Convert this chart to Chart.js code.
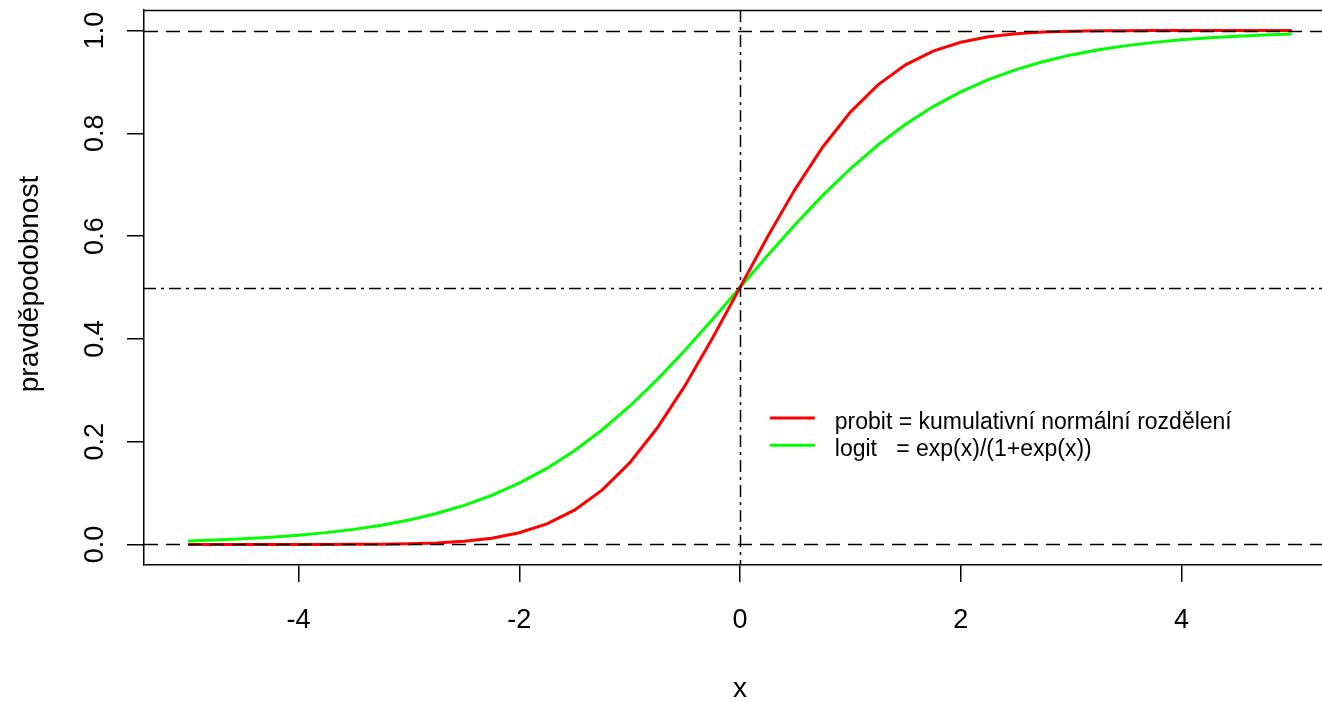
<!DOCTYPE html>
<html>
<head>
<meta charset="utf-8">
<script src="https://cdn.jsdelivr.net/npm/chart.js@4.4.0/dist/chart.umd.min.js"></script>
<style>
html,body{margin:0;padding:0;background:#fff;overflow:hidden;}
canvas{display:block;}
</style>
</head>
<body>
<canvas id="c" width="1322" height="701"></canvas>
<script>
// ---- data ----
const xValues = [-5, -4.75, -4.5, -4.25, -4, -3.75, -3.5, -3.25, -3, -2.75, -2.5, -2.25, -2, -1.75, -1.5, -1.25, -1, -0.75, -0.5, -0.25, 0,
  0.25, 0.5, 0.75, 1, 1.25, 1.5, 1.75, 2, 2.25, 2.5, 2.75, 3, 3.25, 3.5, 3.75, 4, 4.25, 4.5, 4.75, 5];
const probitValues = [0.000, 0.000, 0.000, 0.000, 0.000, 0.0001, 0.0002, 0.0006, 0.0013, 0.003, 0.0062, 0.0122, 0.0228, 0.0401, 0.0668, 0.1056, 0.1587, 0.2266, 0.3085, 0.4013, 0.5,
  0.5987, 0.6915, 0.7734, 0.8413, 0.8944, 0.9332, 0.9599, 0.9772, 0.9878, 0.9938, 0.997, 0.9987, 0.9994, 0.9998, 0.9999, 1.0, 1.0, 1.0, 1.0, 1.0];
const logitValues = [0.0067, 0.0086, 0.011, 0.0141, 0.018, 0.023, 0.0293, 0.0373, 0.0474, 0.0601, 0.0759, 0.0953, 0.1192, 0.148, 0.1824, 0.2227, 0.2689, 0.3208, 0.3775, 0.4378, 0.5,
  0.5622, 0.6225, 0.6792, 0.7311, 0.7773, 0.8176, 0.852, 0.8808, 0.9047, 0.9241, 0.9399, 0.9526, 0.9627, 0.9707, 0.977, 0.982, 0.9859, 0.989, 0.9914, 0.9933];
const xTicks = [-4, -2, 0, 2, 4];
const xTickLabels = ['-4', '-2', '0', '2', '4'];
const yTicks = [0, 0.2, 0.4, 0.6, 0.8, 1.0];
const yTickLabels = ['0.0', '0.2', '0.4', '0.6', '0.8', '1.0'];
const dashedRefY = [0, 1];
const dotdashRefY = [0.5];
const dotdashRefX = [0];
const seriesLabels = ['probit = kumulativní normální rozdělení', 'logit   = exp(x)/(1+exp(x))'];
const xTitle = 'x';
const yTitle = 'pravděpodobnost';

const FONT = '"Liberation Sans", Arial, sans-serif';

const probitData = xValues.map((x, i) => ({x: x, y: probitValues[i]}));
const logitData = xValues.map((x, i) => ({x: x, y: logitValues[i]}));

const decor = {
  id: 'decor',
  afterDatasetsDraw(chart) {
    const ctx = chart.ctx;
    const a = chart.chartArea;
    const xs = chart.scales.x, ys = chart.scales.y;
    ctx.save();
    // reference lines
    ctx.strokeStyle = '#000';
    ctx.lineWidth = 1.5;
    ctx.setLineDash([14, 8]);
    dashedRefY.forEach(v => {
      const y = Math.round(ys.getPixelForValue(v)) + 0.5;
      ctx.beginPath(); ctx.moveTo(a.left, y); ctx.lineTo(a.right, y); ctx.stroke();
    });
    ctx.setLineDash([12, 5, 3, 5]);
    dotdashRefY.forEach(v => {
      const y = Math.round(ys.getPixelForValue(v)) + 0.5;
      ctx.beginPath(); ctx.moveTo(a.left, y); ctx.lineTo(a.right, y); ctx.stroke();
    });
    dotdashRefX.forEach(v => {
      const x = Math.round(xs.getPixelForValue(v)) + 0.5;
      ctx.beginPath(); ctx.moveTo(x, a.top); ctx.lineTo(x, a.bottom); ctx.stroke();
    });
    ctx.setLineDash([]);
    // top border of box
    ctx.lineWidth = 1.5;
    ctx.beginPath(); ctx.moveTo(a.left, a.top + 0.5); ctx.lineTo(a.right, a.top + 0.5); ctx.stroke();

    // legend
    const ds = chart.data.datasets;
    ctx.font = '23px ' + FONT;
    ctx.textAlign = 'left';
    ctx.textBaseline = 'alphabetic';
    const legX = xs.getPixelForValue(0.27);
    const rowY = [ys.getPixelForValue(0.246), ys.getPixelForValue(0.193)];
    ds.forEach((d, i) => {
      ctx.strokeStyle = d.borderColor;
      ctx.lineWidth = 3;
      ctx.beginPath(); ctx.moveTo(legX, rowY[i]); ctx.lineTo(legX + 45, rowY[i]); ctx.stroke();
      ctx.fillStyle = '#000';
      ctx.fillText(d.label, legX + 65, rowY[i] + 11);
    });

    // tick labels
    ctx.fillStyle = '#000';
    ctx.font = '27px ' + FONT;
    ctx.textAlign = 'center';
    ctx.textBaseline = 'alphabetic';
    xTicks.forEach((v, i) => {
      ctx.fillText(xTickLabels[i], xs.getPixelForValue(v), a.bottom + 63);
    });
    yTicks.forEach((v, i) => {
      ctx.save();
      ctx.translate(a.left - 41, ys.getPixelForValue(v));
      ctx.rotate(-Math.PI / 2);
      ctx.fillText(yTickLabels[i], 0, 0);
      ctx.restore();
    });
    // axis titles
    ctx.font = '28px ' + FONT;
    ctx.fillText(xTitle, (xs.getPixelForValue(0)), 697);
    ctx.save();
    ctx.translate(38, 284);
    ctx.rotate(-Math.PI / 2);
    ctx.fillText(yTitle, 0, 0);
    ctx.restore();
    ctx.restore();
  }
};

new Chart(document.getElementById('c'), {
  type: 'line',
  data: {
    datasets: [
      {label: seriesLabels[0], data: probitData, borderColor: '#ff0000', backgroundColor: '#ff0000', borderWidth: 3},
      {label: seriesLabels[1], data: logitData, borderColor: '#00ff00', backgroundColor: '#00ff00', borderWidth: 3}
    ]
  },
  options: {
    responsive: false,
    animation: false,
    layout: {padding: {top: 10, left: 0, right: 0, bottom: 0}},
    plugins: {legend: {display: false}, tooltip: {enabled: false}, title: {display: false}},
    elements: {point: {radius: 0}, line: {tension: 0}},
    scales: {
      x: {
        type: 'linear', min: -5.4, max: 5.273,
        afterBuildTicks(s) { s.ticks = xTicks.map(v => ({value: v})); },
        afterFit(s) { s.height = 136; },
        grid: {display: true, drawOnChartArea: false, drawTicks: true, tickLength: 17, color: '#000', lineWidth: 1.5},
        border: {display: true, color: '#000', width: 1.5},
        ticks: {display: false}
      },
      y: {
        type: 'linear', min: -0.04, max: 1.04,
        afterBuildTicks(s) { s.ticks = yTicks.map(v => ({value: v})); },
        afterFit(s) { s.width = 144; },
        grid: {display: true, drawOnChartArea: false, drawTicks: true, tickLength: 17, color: '#000', lineWidth: 1.5},
        border: {display: true, color: '#000', width: 1.5},
        ticks: {display: false}
      }
    }
  },
  plugins: [decor]
});
</script>
</body>
</html>
